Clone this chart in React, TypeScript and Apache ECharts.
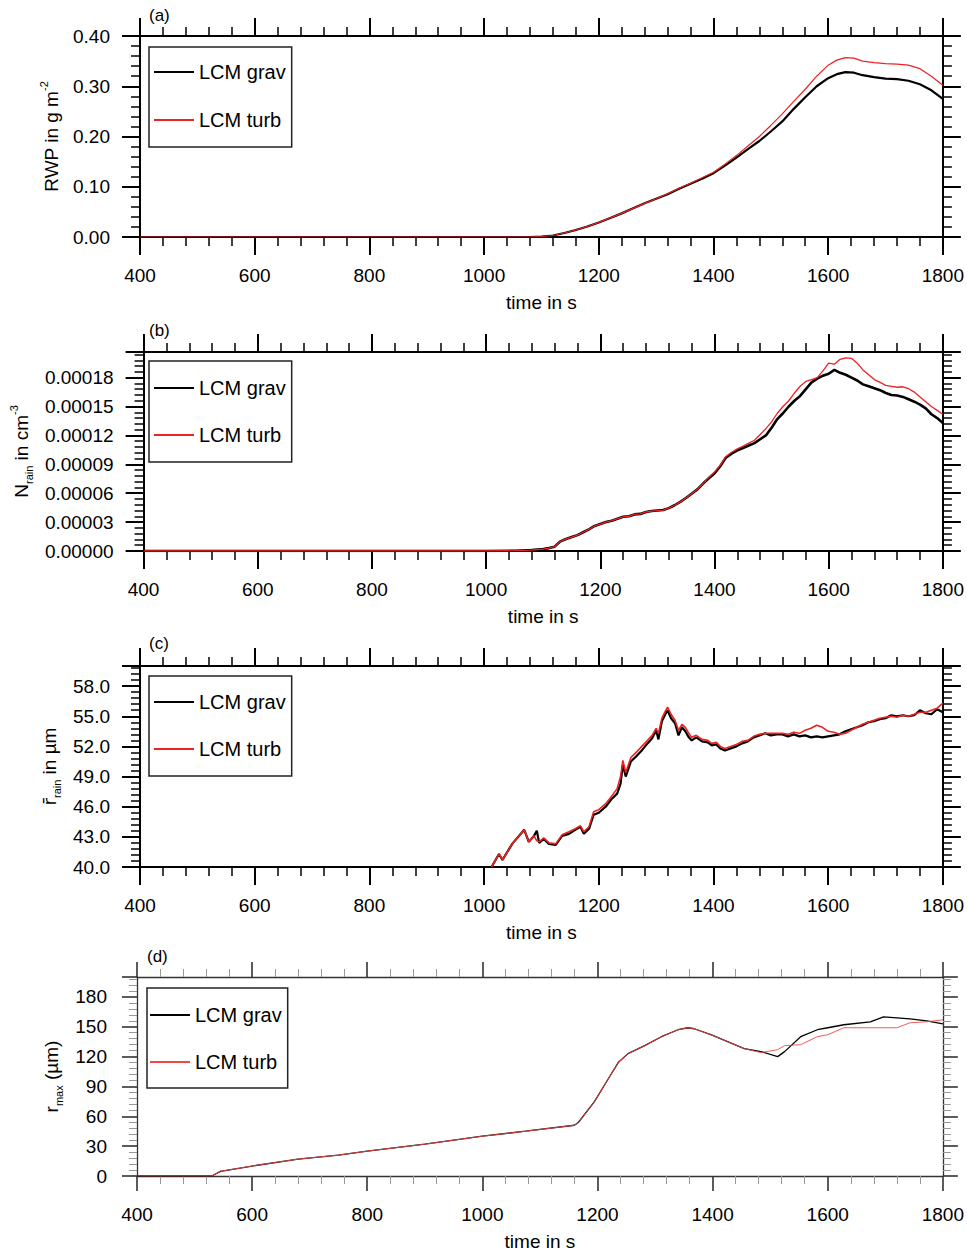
import React, { useEffect, useRef } from 'react';
import * as echarts from 'echarts';

const FONT = "'Liberation Sans', Arial, Helvetica, sans-serif";

// ---------- x axis ----------
const xTicks = { min: 400, max: 1800, interval: 200 };
const xTitle = 'time in s';
const seriesNames = ['LCM grav', 'LCM turb'];
const panelTags = ['(a)', '(b)', '(c)', '(d)'];

// ---------- (a) RWP ----------
const timeA = [400, 1000, 1080, 1100, 1120, 1140, 1160, 1180, 1200, 1220, 1240, 1260, 1280, 1300, 1320, 1340, 1360, 1380, 1400, 1420, 1440, 1460, 1480, 1500, 1520, 1540, 1560, 1580, 1600, 1615, 1630, 1645, 1660, 1680, 1700, 1720, 1740, 1760, 1780, 1800];
const rwpGrav = [0, 0, 0, 0.001, 0.003, 0.008, 0.014, 0.021, 0.029, 0.038, 0.047, 0.057, 0.067, 0.076, 0.085, 0.096, 0.106, 0.116, 0.127, 0.142, 0.158, 0.175, 0.191, 0.21, 0.23, 0.255, 0.278, 0.3, 0.316, 0.324, 0.328, 0.327, 0.322, 0.318, 0.315, 0.314, 0.311, 0.304, 0.292, 0.275];
const rwpTurb = [0, 0, 0, 0.001, 0.003, 0.008, 0.014, 0.021, 0.029, 0.038, 0.047, 0.057, 0.067, 0.076, 0.086, 0.097, 0.107, 0.118, 0.129, 0.145, 0.162, 0.181, 0.2, 0.222, 0.245, 0.27, 0.294, 0.32, 0.342, 0.352, 0.357, 0.356, 0.35, 0.347, 0.345, 0.344, 0.342, 0.335, 0.32, 0.302];

// ---------- (b) N_rain ----------
const timeB = [400, 1000, 1050, 1080, 1100, 1110, 1120, 1130, 1140, 1150, 1160, 1170, 1180, 1190, 1200, 1210, 1220, 1230, 1240, 1250, 1260, 1270, 1280, 1290, 1300, 1310, 1320, 1330, 1340, 1350, 1360, 1370, 1380, 1390, 1400, 1410, 1420, 1430, 1440, 1450, 1460, 1470, 1480, 1490, 1500, 1510, 1520, 1530, 1540, 1550, 1560, 1570, 1580, 1590, 1600, 1610, 1620, 1630, 1640, 1650, 1660, 1670, 1680, 1690, 1700, 1710, 1720, 1730, 1740, 1750, 1760, 1770, 1780, 1790, 1800];
const nrainGrav = [0, 0, 0.3e-6, 1e-6, 2e-6, 3e-6, 4.5e-6, 10e-6, 12.5e-6, 14.5e-6, 16.5e-6, 19.5e-6, 22.5e-6, 26e-6, 28e-6, 30e-6, 31.5e-6, 33.5e-6, 35.5e-6, 36e-6, 38e-6, 38.5e-6, 40.5e-6, 41.5e-6, 42e-6, 42.5e-6, 44.5e-6, 47.5e-6, 51e-6, 55e-6, 59.5e-6, 64e-6, 70e-6, 75.5e-6, 80.5e-6, 88e-6, 97e-6, 101e-6, 104.5e-6, 107e-6, 109.5e-6, 112e-6, 116e-6, 120e-6, 128e-6, 137e-6, 143e-6, 150e-6, 156e-6, 161e-6, 168e-6, 175e-6, 179e-6, 182e-6, 184e-6, 188e-6, 185e-6, 183e-6, 180e-6, 177e-6, 173e-6, 171e-6, 169e-6, 167e-6, 164e-6, 162e-6, 161.5e-6, 160e-6, 157.5e-6, 155e-6, 152e-6, 148e-6, 142e-6, 138e-6, 133e-6];
const nrainTurb = [0, 0, 0.3e-6, 1e-6, 2e-6, 3e-6, 4.5e-6, 10e-6, 12.5e-6, 14.5e-6, 16.5e-6, 19.5e-6, 22.5e-6, 26e-6, 28e-6, 30e-6, 31.5e-6, 33.5e-6, 35.5e-6, 36e-6, 38e-6, 38.5e-6, 40.5e-6, 41.5e-6, 42e-6, 42.5e-6, 44.5e-6, 47.5e-6, 51e-6, 55e-6, 59.5e-6, 64e-6, 70e-6, 76.5e-6, 82e-6, 89e-6, 98e-6, 102.5e-6, 106e-6, 109e-6, 112e-6, 115e-6, 121e-6, 127e-6, 134e-6, 143e-6, 150e-6, 156e-6, 164e-6, 171e-6, 176e-6, 178e-6, 180e-6, 187e-6, 195e-6, 194e-6, 199e-6, 200.5e-6, 200e-6, 195e-6, 188e-6, 183e-6, 178e-6, 175e-6, 172e-6, 171e-6, 170e-6, 170.5e-6, 168.5e-6, 165e-6, 160e-6, 155e-6, 150e-6, 146e-6, 142e-6];

// ---------- (c) mean rain radius ----------
const timeC = [1013, 1026, 1032, 1049, 1070, 1078, 1087, 1092, 1096, 1104, 1113, 1125, 1136, 1148, 1159, 1168, 1174, 1183, 1191, 1200, 1212, 1223, 1232, 1238, 1242, 1247, 1256, 1265, 1275, 1285, 1293, 1300, 1304, 1310, 1316, 1320, 1326, 1333, 1339, 1345, 1351, 1357, 1362, 1370, 1380, 1390, 1397, 1405, 1412, 1420, 1430, 1440, 1450, 1460, 1470, 1480, 1490, 1500, 1510, 1520, 1530, 1540, 1550, 1560, 1570, 1580, 1590, 1600, 1610, 1620, 1630, 1640, 1650, 1660, 1670, 1680, 1690, 1700, 1710, 1720, 1730, 1740, 1750, 1760, 1770, 1780, 1790, 1800];
const rrainGrav = [40.0, 41.3, 40.7, 42.3, 43.7, 42.5, 43.1, 43.6, 42.4, 42.8, 42.3, 42.2, 43.1, 43.3, 43.7, 44.0, 43.3, 43.8, 45.2, 45.4, 46.0, 46.8, 47.3, 48.3, 50.2, 49.0, 50.5, 51.0, 51.6, 52.3, 52.8, 53.6, 52.7, 54.5, 55.2, 55.6, 54.8, 54.3, 53.1, 53.9, 53.5, 52.9, 52.6, 52.9, 52.5, 52.4, 52.1, 52.2, 51.8, 51.6, 51.8, 52.0, 52.3, 52.5, 52.9, 53.1, 53.3, 53.1, 53.2, 53.2, 53.0, 53.2, 53.0, 53.1, 52.9, 53.0, 52.9, 53.0, 53.1, 53.2, 53.5, 53.7, 53.9, 54.1, 54.4, 54.5, 54.7, 54.8, 55.1, 55.0, 55.1, 55.0, 55.1, 55.6, 55.3, 55.2, 55.7, 55.4];
const rrainTurb = [40.0, 41.3, 40.7, 42.3, 43.7, 42.5, 43.1, 42.6, 42.5, 42.9, 42.4, 42.3, 43.2, 43.5, 43.8, 44.1, 43.5, 44.0, 45.5, 45.7, 46.3, 47.1, 47.8, 49.0, 50.6, 49.4, 50.9, 51.4, 52.0, 52.6, 53.1, 53.8, 53.3, 54.8, 55.5, 55.9, 55.2, 54.6, 53.6, 54.2, 53.9, 53.3, 52.9, 53.1, 52.7, 52.6, 52.3, 52.4, 52.0, 51.8, 52.0, 52.2, 52.5, 52.6, 53.0, 53.2, 53.3, 53.3, 53.3, 53.3, 53.2, 53.4, 53.3, 53.6, 53.8, 54.1, 53.9, 53.5, 53.4, 53.2, 53.3, 53.6, 53.9, 54.2, 54.4, 54.6, 54.8, 54.9, 55.0, 54.9, 55.1, 55.0, 55.2, 55.4, 55.4, 55.6, 55.8, 56.3];

// ---------- (d) max radius ----------
const timeD = [400, 530, 545, 600, 680, 750, 800, 900, 1000, 1075, 1160, 1167, 1195, 1218, 1236, 1253, 1282, 1311, 1340, 1357, 1368, 1397, 1426, 1455, 1484, 1513, 1525, 1553, 1582, 1600, 1628, 1674, 1697, 1720, 1743, 1772, 1800];
const rmaxGrav = [0, 0, 4.7, 10, 17, 21, 25, 32, 40, 45, 51, 54, 75, 97, 114, 123, 131, 140, 147, 149, 148, 142, 135, 128, 125, 120, 125, 140, 147, 149, 152, 155, 160, 159, 158, 156, 153];
const rmaxTurb = [0, 0, 4.7, 10, 17, 21, 25, 32, 40, 45, 51, 54, 75, 97, 114, 123, 131, 140, 147, 149, 148, 142, 135, 128, 124, 127, 131, 132, 140, 142, 149, 149, 149, 149, 154, 155, 157];

// y-axis ranges
const yA = { min: 0, max: 0.4, interval: 0.1 };
const yB = { min: 0, max: 0.0002066, interval: 0.00003 };
const yC = { min: 40, max: 60, interval: 3 };
const yD = { min: 0, max: 200, interval: 30 };

const zip = (t: number[], v: number[]) => t.map((x, i) => [x, v[i]]);

type PanelCfg = {
  grid: { left: number; top: number; width: number; height: number };
  y: { min: number; max: number; interval: number };
  yName: string;
  yNameGap: number;
  yLabelFmt: (v: number) => string;
  time: number[];
  grav: number[];
  turb: number[];
  gravW: number;
  turbW: number;
  turbColor: string;
  thin: boolean;
  legendPos: { left: number; top: number; padding: number[]; itemGap: number };
  tagPos: { x: number; y: number };
};

const richName = {
  n: { fontFamily: FONT, fontSize: 19, color: '#000', lineHeight: 26 },
  bar: { fontFamily: "'DejaVu Sans', sans-serif", fontSize: 18, color: '#000', lineHeight: 26 },
  sup: { fontFamily: FONT, fontSize: 11, color: '#000', lineHeight: 11, verticalAlign: 'top' },
  sub: { fontFamily: FONT, fontSize: 11, color: '#000', lineHeight: 11, verticalAlign: 'bottom' },
};

const panels: PanelCfg[] = [
  {
    grid: { left: 140, top: 36, width: 805, height: 201 },
    y: yA, yName: '{n|RWP in g m}{sup|-2}', yNameGap: 76,
    yLabelFmt: (v) => v.toFixed(2),
    time: timeA, grav: rwpGrav, turb: rwpTurb, gravW: 2.2, turbW: 1.2, turbColor: '#ee2222', thin: false,
    legendPos: { left: 149, top: 47, padding: [15, 6, 17, 4], itemGap: 28 },
    tagPos: { x: 149, y: 16 },
  },
  {
    grid: { left: 140, top: 352, width: 805, height: 199 },
    y: yB, yName: '{n|N}{sub|rain}{n| in cm}{sup|-3}', yNameGap: 106,
    yLabelFmt: (v) => v.toFixed(5),
    time: timeB, grav: nrainGrav, turb: nrainTurb, gravW: 2.6, turbW: 1.3, turbColor: '#ee2222', thin: false,
    legendPos: { left: 149, top: 361, padding: [17, 6, 17, 4], itemGap: 27 },
    tagPos: { x: 149, y: 331 },
  },
  {
    grid: { left: 140, top: 666, width: 805, height: 201 },
    y: yC, yName: '{bar|r\u0304}{sub|rain}{n| in \u00b5m}', yNameGap: 78,
    yLabelFmt: (v) => v.toFixed(1),
    time: timeC, grav: rrainGrav, turb: rrainTurb, gravW: 2.2, turbW: 1.6, turbColor: '#ee2020', thin: false,
    legendPos: { left: 149, top: 676, padding: [16, 6, 17, 4], itemGap: 27 },
    tagPos: { x: 149, y: 644 },
  },
  {
    grid: { left: 137, top: 977, width: 809, height: 200 },
    y: yD, yName: '{n|r}{sub|max}{n| (\u00b5m)}', yNameGap: 72,
    yLabelFmt: (v) => String(Math.round(v)),
    time: timeD, grav: rmaxGrav, turb: rmaxTurb, gravW: 1.3, turbW: 0.9, turbColor: '#f04848', thin: true,
    legendPos: { left: 147, top: 988, padding: [17, 6, 16, 2], itemGap: 27 },
    tagPos: { x: 147, y: 957 },
  },
];

function buildOption() {
  const grid: any[] = [];
  const xAxis: any[] = [];
  const yAxis: any[] = [];
  const series: any[] = [];
  const legend: any[] = [];
  const graphic: any[] = [];

  panels.forEach((p, i) => {
    const tag = panelTags[i];
    grid.push({ ...p.grid, containLabel: false });
    const lineCol = p.thin ? '#333' : '#000';
    const axW = p.thin ? 1.3 : 2;
    const majW = p.thin ? 1.6 : 2;
    const majLen = p.thin ? 15 : 18;
    const minCol = p.thin ? '#999' : '#000';
    const minW = p.thin ? 1 : 1.5;
    const minLen = p.thin ? 8 : 9;
    const common = {
      type: 'value',
      gridIndex: i,
      axisLine: { show: true, onZero: false, lineStyle: { color: lineCol, width: axW } },
      axisTick: { show: true, inside: false, length: majLen, lineStyle: { color: lineCol, width: majW } },
      minorTick: { show: true, splitNumber: 5, length: minLen, lineStyle: { color: minCol, width: minW } },
      splitLine: { show: false },
      minorSplitLine: { show: false },
    };
    const labelStyle = { fontFamily: FONT, fontSize: 19, color: '#000' };
    xAxis.push({
      ...common, position: 'bottom', ...xTicks,
      name: xTitle, nameLocation: 'middle', nameGap: 56,
      nameTextStyle: { fontFamily: FONT, fontSize: 19, color: '#000' },
      axisLabel: { ...labelStyle, margin: 29, formatter: (v: number) => String(v) },
    });
    xAxis.push({ ...common, position: 'top', ...xTicks, axisLabel: { show: false } });
    yAxis.push({
      ...common, position: 'left', ...p.y,
      name: p.yName, nameLocation: 'middle', nameRotate: 90, nameGap: p.yNameGap,
      nameTextStyle: { rich: richName },
      axisLabel: { ...labelStyle, margin: 30, showMaxLabel: p.y.max === 0.4 ? true : false, formatter: p.yLabelFmt },
    });
    yAxis.push({ ...common, position: 'right', ...p.y, axisLabel: { show: false } });

    const nG = seriesNames[0] + '#' + tag;
    const nT = seriesNames[1] + '#' + tag;
    series.push({
      type: 'line', name: nG, xAxisIndex: 2 * i, yAxisIndex: 2 * i,
      data: zip(p.time, p.grav), symbol: 'none', showSymbol: false,
      lineStyle: { color: '#000', width: p.gravW }, itemStyle: { color: '#000' },
    });
    series.push({
      type: 'line', name: nT, xAxisIndex: 2 * i, yAxisIndex: 2 * i,
      data: zip(p.time, p.turb), symbol: 'none', showSymbol: false,
      lineStyle: { color: p.turbColor, width: p.turbW }, itemStyle: { color: p.turbColor },
    });
    legend.push({
      left: p.legendPos.left, top: p.legendPos.top, orient: 'vertical',
      data: [nG, nT], formatter: (n: string) => n.split('#')[0],
      itemWidth: 40, itemHeight: 14, itemGap: p.legendPos.itemGap,
      padding: p.legendPos.padding, borderColor: '#222', borderWidth: 1.5,
      selectedMode: false, itemStyle: { opacity: 0 },
      textStyle: { fontFamily: FONT, fontSize: 20, color: '#000' },
    });
    graphic.push({
      type: 'text', left: p.tagPos.x, top: p.tagPos.y - 9,
      style: { text: tag, fontFamily: FONT, fontSize: 17, fill: '#000' },
    });
  });

  return { animation: false, backgroundColor: '#fff', grid, xAxis, yAxis, series, legend, graphic };
}

export default function App() {
  const ref = useRef<HTMLDivElement>(null);
  useEffect(() => {
    if (!ref.current) return;
    const chart = echarts.init(ref.current, undefined, { renderer: 'svg' });
    chart.setOption(buildOption() as any);
    return () => chart.dispose();
  }, []);
  return (
    <div
      ref={ref}
      style={{ position: 'absolute', left: 0, top: 0, width: 967, height: 1252, background: '#fff' }}
    />
  );
}
